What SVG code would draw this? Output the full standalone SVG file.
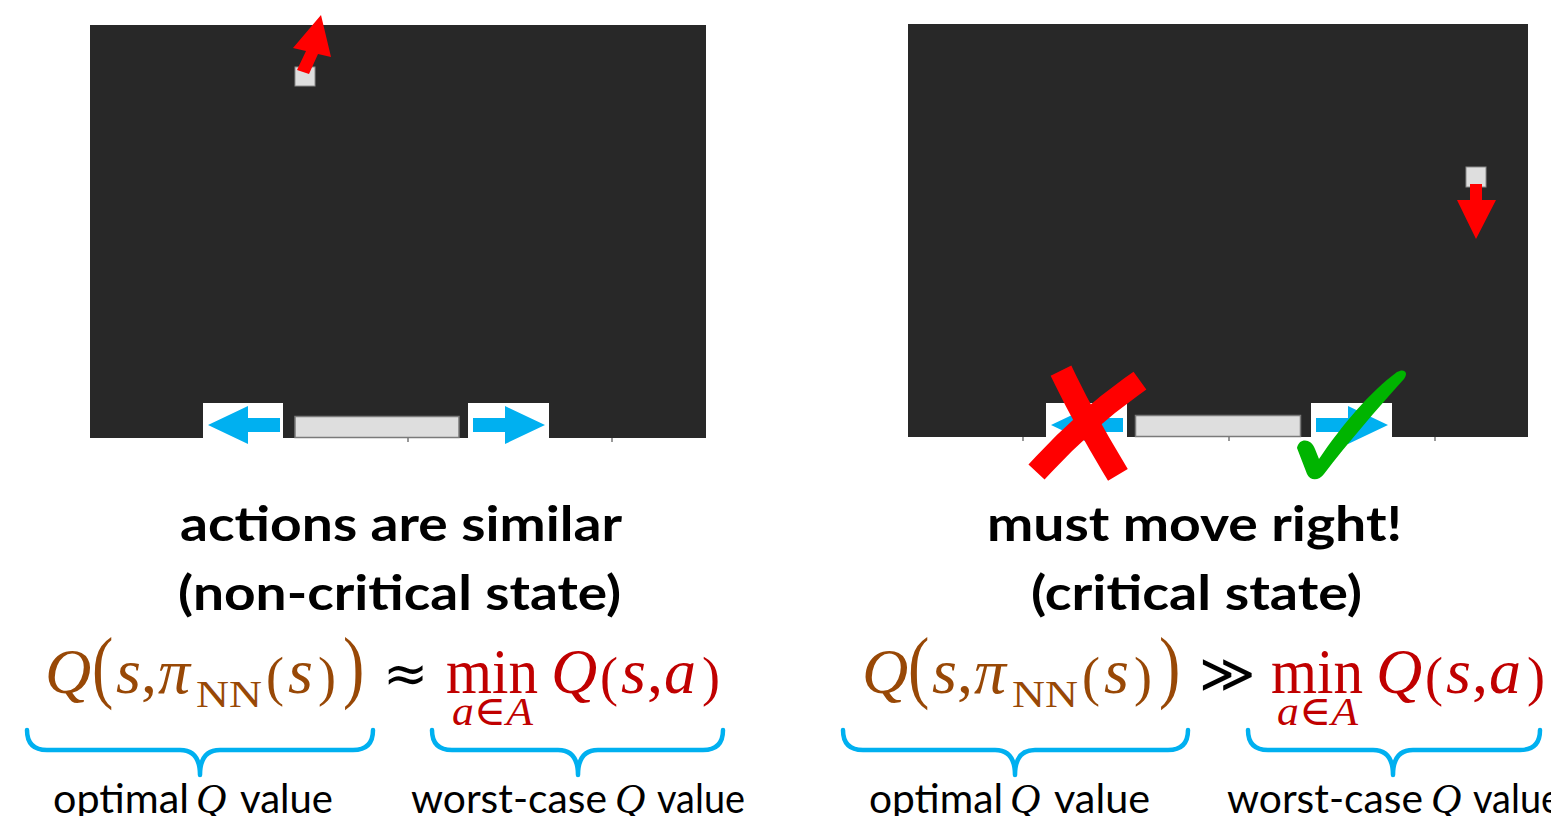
<svg xmlns="http://www.w3.org/2000/svg" width="1551" height="816" viewBox="0 0 1551 816">
<style>
.panel{fill:#282828}
.ball{fill:#dedede;stroke:#8a8a8a;stroke-width:1}
.paddle{fill:#dedede;stroke:#7a7a7a;stroke-width:1.5}
.wbox{fill:#ffffff}
.blue{fill:#00b0f0}
.redarrow{fill:#ff0000}
.tick{stroke:#555;stroke-width:1.2}
.head{font-family:Lato,"Open Sans",sans-serif;font-weight:700;font-size:47px;fill:#000}
.lab{font-family:Lato,"Open Sans",sans-serif;font-size:40px;fill:#000}
.labq{font-family:"Liberation Serif",serif;font-style:italic;font-size:42px;fill:#000}
.m{font-family:"Liberation Serif","DejaVu Serif",serif;font-size:64px}
.it{font-style:italic}
.br{fill:#984806}
.rd{fill:#c00000}
.sub{font-size:38px}
.sp{font-size:54px}
.rel{font-family:"DejaVu Sans",sans-serif;font-size:54px;fill:#000}
.brace{fill:none;stroke:#00b0f0;stroke-width:4.5;stroke-linejoin:round;stroke-linecap:round}
</style>

<g id="panel-left">
<rect class="panel" x="90" y="25" width="616" height="413"/>
<line class="tick" x1="408" y1="438" x2="408" y2="442"/>
<line class="tick" x1="612" y1="438" x2="612" y2="442"/>
<rect class="ball" x="295" y="67" width="20" height="19"/>
<polygon class="redarrow" points="297,70 306,51 293,48 321,15 331,57 318,54 309,74"/>
<rect class="paddle" x="295" y="416.5" width="164" height="21"/>
<rect class="wbox" x="203" y="403" width="80" height="35"/>
<polygon class="blue" points="208,425 248,406 248,418 280,418 280,432 248,432 248,444"/>
<rect class="wbox" x="468" y="403" width="81" height="35"/>
<polygon class="blue" points="473,418 505,418 505,406 545,425 505,444 505,432 473,432"/>
</g>

<g id="panel-right">
<rect class="panel" x="908" y="24" width="620" height="413"/>
<line class="tick" x1="1023" y1="437" x2="1023" y2="441"/>
<line class="tick" x1="1229" y1="437" x2="1229" y2="441"/>
<line class="tick" x1="1435" y1="437" x2="1435" y2="441"/>
<rect class="ball" x="1466" y="167" width="20" height="20"/>
<polygon class="redarrow" points="1470,184 1482,184 1482,200 1496,200 1476,239 1457,200 1470,200"/>
<rect class="paddle" x="1135.5" y="415.5" width="165" height="21"/>
<rect class="wbox" x="1046" y="403" width="81" height="34"/>
<polygon class="blue" points="1051,425 1091,406 1091,418 1123,418 1123,432 1091,432 1091,444"/>
<rect class="wbox" x="1311" y="403" width="81" height="34"/>
<polygon class="blue" points="1316,418 1348,418 1348,406 1388,425 1348,444 1348,432 1316,432"/>
<path d="M1066,381 Q1085,420 1112,465" fill="none" stroke="#ff0000" stroke-width="23" stroke-linecap="square"/>
<path d="M1131,387 Q1085,420 1044,464" fill="none" stroke="#ff0000" stroke-width="22" stroke-linecap="square"/>
<path d="M1297,448 C1299,438 1311,438 1315,449 L1319,459 C1342,425 1370,392 1397,372 C1404,368 1409,372 1404,379 C1376,410 1347,444 1324,474 C1319,481 1310,481 1307,474 Z" fill="#00b400"/>
</g>

<g id="caption-left">
<text class="head" x="180" y="541" textLength="442" lengthAdjust="spacingAndGlyphs">actions are similar</text>
<text class="head" x="178" y="610" textLength="443" lengthAdjust="spacingAndGlyphs">(non-critical state)</text>
</g>
<g id="caption-right">
<text class="head" x="987" y="541" textLength="415" lengthAdjust="spacingAndGlyphs">must move right!</text>
<text class="head" x="1031" y="610" textLength="331" lengthAdjust="spacingAndGlyphs">(critical state)</text>
</g>

<g id="formula-left">
<text class="m it br" x="45" y="693">Q</text>
<text class="m br" transform="translate(92,693) scale(1,1.25)">(</text>
<text class="m it br" x="116" y="693">s</text>
<text class="m br" x="141" y="693">,</text>
<text class="m it br" x="158" y="693">π</text>
<text class="m sub br" x="196" y="707" textLength="66" lengthAdjust="spacingAndGlyphs">NN</text>
<text class="m sp br" x="266" y="695">(</text>
<text class="m it br" x="288" y="693">s</text>
<text class="m sp br" x="318" y="695">)</text>
<text class="m br" transform="translate(343,693) scale(1,1.25)">)</text>
<text class="rel" x="383" y="692">≈</text>
<text class="m rd" x="446" y="693" textLength="92" lengthAdjust="spacingAndGlyphs">min</text>
<text class="m rd" x="452" y="725" style="font-size:41px" textLength="81" lengthAdjust="spacingAndGlyphs"><tspan class="it">a</tspan>∈<tspan class="it">A</tspan></text>
<text class="m it rd" x="551" y="693">Q</text>
<text class="m sp rd" x="600" y="695">(</text>
<text class="m it rd" x="621" y="693">s</text>
<text class="m rd" x="647" y="693">,</text>
<text class="m it rd" x="664" y="693">a</text>
<text class="m sp rd" x="702" y="695">)</text>
</g>

<g id="formula-right">
<text class="m it br" x="862" y="693">Q</text>
<text class="m br" transform="translate(908,693) scale(1,1.25)">(</text>
<text class="m it br" x="932" y="693">s</text>
<text class="m br" x="957" y="693">,</text>
<text class="m it br" x="974" y="693">π</text>
<text class="m sub br" x="1012" y="707" textLength="66" lengthAdjust="spacingAndGlyphs">NN</text>
<text class="m sp br" x="1082" y="695">(</text>
<text class="m it br" x="1104" y="693">s</text>
<text class="m sp br" x="1134" y="695">)</text>
<text class="m br" transform="translate(1159,693) scale(1,1.25)">)</text>
<text class="rel" x="1199" y="692">≫</text>
<text class="m rd" x="1271" y="693" textLength="92" lengthAdjust="spacingAndGlyphs">min</text>
<text class="m rd" x="1277" y="725" style="font-size:41px" textLength="81" lengthAdjust="spacingAndGlyphs"><tspan class="it">a</tspan>∈<tspan class="it">A</tspan></text>
<text class="m it rd" x="1376" y="693">Q</text>
<text class="m sp rd" x="1425" y="695">(</text>
<text class="m it rd" x="1446" y="693">s</text>
<text class="m rd" x="1472" y="693">,</text>
<text class="m it rd" x="1489" y="693">a</text>
<text class="m sp rd" x="1527" y="695">)</text>
</g>

<g id="braces">
<path class="brace" d="M27,730 Q27,750 47,750 L180,750 Q200,750 200,775 Q200,750 220,750 L353,750 Q373,750 373,730"/>
<path class="brace" d="M432,730 Q432,750 452,750 L558,750 Q578,750 578,775 Q578,750 598,750 L703,750 Q723,750 723,730"/>
<path class="brace" d="M843,730 Q843,750 863,750 L995,750 Q1015,750 1015,775 Q1015,750 1035,750 L1168,750 Q1188,750 1188,730"/>
<path class="brace" d="M1248,730 Q1248,750 1268,750 L1373,750 Q1393,750 1393,775 Q1393,750 1413,750 L1520,750 Q1540,750 1540,730"/>
</g>

<g id="labels">
<text class="lab" x="53" y="813" textLength="136" lengthAdjust="spacingAndGlyphs">optimal</text>
<text class="labq" x="196" y="813">Q</text>
<text class="lab" x="240" y="813" textLength="93" lengthAdjust="spacingAndGlyphs">value</text>
<text class="lab" x="411" y="813" textLength="196" lengthAdjust="spacingAndGlyphs">worst-case</text>
<text class="labq" x="615" y="813">Q</text>
<text class="lab" x="657" y="813" textLength="88" lengthAdjust="spacingAndGlyphs">value</text>
<text class="lab" x="869" y="813" textLength="134" lengthAdjust="spacingAndGlyphs">optimal</text>
<text class="labq" x="1010" y="813">Q</text>
<text class="lab" x="1054" y="813" textLength="96" lengthAdjust="spacingAndGlyphs">value</text>
<text class="lab" x="1227" y="813" textLength="196" lengthAdjust="spacingAndGlyphs">worst-case</text>
<text class="labq" x="1431" y="813">Q</text>
<text class="lab" x="1473" y="813" textLength="88" lengthAdjust="spacingAndGlyphs">value</text>
</g>
</svg>
